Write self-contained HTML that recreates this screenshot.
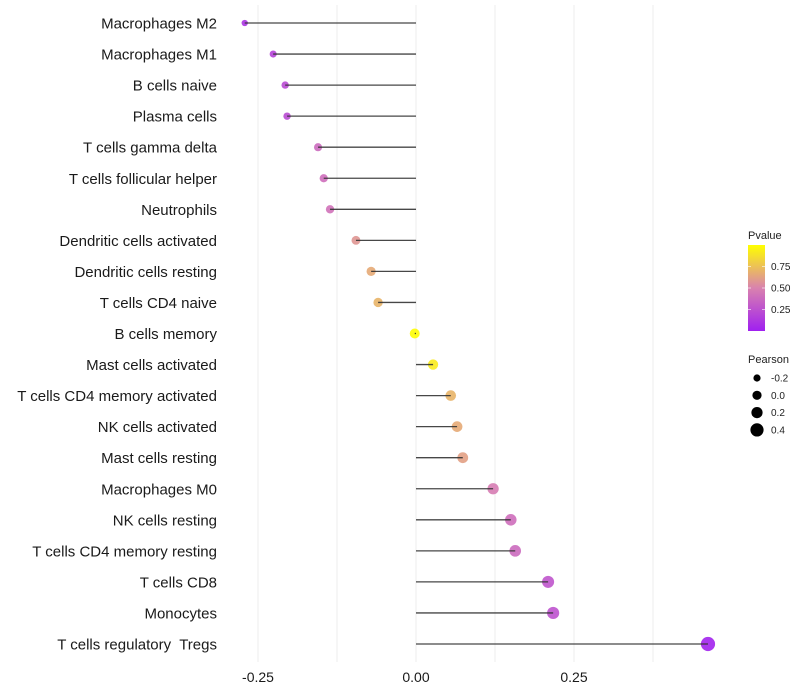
<!DOCTYPE html>
<html><head><meta charset="utf-8"><style>
body{margin:0;background:#fff;font-family:"Liberation Sans",sans-serif}
text{white-space:pre}
</style></head><body>
<svg id="chart" width="800" height="700" style="display:block">
<defs>
<linearGradient id="pg" x1="0" y1="1" x2="0" y2="0">
<stop offset="0" stop-color="#A020F0"/><stop offset="0.5" stop-color="#D982AE"/><stop offset="1" stop-color="#FFFF00"/>
</linearGradient>
</defs>
<g id="grid"></g>
<g id="marks"></g>
<g id="ylab"></g>
<g id="xlab"></g>
<g font-size="10" fill="#222">
<text x="748" y="239" font-size="11">Pvalue</text>
<rect x="748" y="245" width="17" height="86" fill="url(#pg)"/>
<g id="cbticks"></g>
</g>
<g font-size="10" fill="#222" id="pleg">
<text x="748" y="363" font-size="11">Pearson</text>
</g>
</svg>
<script>
const cells = ["Macrophages M2","Macrophages M1","B cells naive","Plasma cells","T cells gamma delta","T cells follicular helper","Neutrophils","Dendritic cells activated","Dendritic cells resting","T cells CD4 naive","B cells memory","Mast cells activated","T cells CD4 memory activated","NK cells activated","Mast cells resting","Macrophages M0","NK cells resting","T cells CD4 memory resting","T cells CD8","Monocytes","T cells regulatory  Tregs"];
const pearson = [-0.271,-0.226,-0.207,-0.204,-0.155,-0.146,-0.136,-0.095,-0.071,-0.060,-0.002,0.027,0.055,0.065,0.074,0.122,0.150,0.157,0.209,0.217,0.462];
const pvalue = [0.1,0.18,0.22,0.22,0.38,0.4,0.42,0.58,0.66,0.7,0.99,0.92,0.7,0.66,0.62,0.47,0.4,0.38,0.27,0.26,0.02];
const xTicks = [-0.25,0,0.25];
const xTickLabels = ["-0.25","0.00","0.25"];
const cbTicks = [0.25,0.5,0.75];
const cbTickLabels = ["0.25","0.50","0.75"];
const sizeTicks = [-0.2,0,0.2,0.4];
const sizeTickLabels = ["-0.2","0.0","0.2","0.4"];

const NS="http://www.w3.org/2000/svg";
const x = v => 416 + v*632;
const y = i => 23 + i*31.05;
const r = v => Math.sqrt(Math.max(3, 25 + 55*v));
function mix(a,b,t){return a.map((c,k)=>Math.round(c+(b[k]-c)*t));}
function col(p){const s=[[160,32,240],[217,130,174],[255,255,0]];
 const c = p<0.5?mix(s[0],s[1],p/0.5):mix(s[1],s[2],(p-0.5)/0.5);return `rgb(${c})`;}
function mk(tag,attrs,parent){const e=document.createElementNS(NS,tag);for(const k in attrs)e.setAttribute(k,attrs[k]);parent.appendChild(e);return e;}
const grid=document.getElementById('grid'),marks=document.getElementById('marks'),ylab=document.getElementById('ylab'),xlab=document.getElementById('xlab');
[-0.25,-0.125,0,0.125,0.25,0.375].forEach(v=>{
 const l=mk('line',{x1:x(v),x2:x(v),y1:5,y2:662,stroke:'#ededed','stroke-width':1},grid);
 
 
});
cells.forEach((c,i)=>{
 const p=mk('circle',{cx:x(pearson[i]),cy:y(i),r:r(pearson[i]),fill:col(pvalue[i]),'fill-opacity':0.9},marks);
 
 
 const s=mk('line',{x1:x(0),x2:x(pearson[i]),y1:y(i),y2:y(i),stroke:'#333','stroke-width':1.3,'stroke-opacity':0.9},marks);
 
 
 const t=mk('text',{x:217,y:y(i)+5.5,'text-anchor':'end','font-size':15,fill:'#1a1a1a'},ylab);
 t.textContent=c;
 
 
});
xTicks.forEach((v,i)=>{
 const t=mk('text',{x:x(v),y:682,'text-anchor':'middle','font-size':14,fill:'#1a1a1a'},xlab);
 t.textContent=xTickLabels[i];
 
 
});
const cb=document.getElementById('cbticks');
cbTicks.forEach((v,i)=>{
 const yy=331-v*86;
 const l=mk('line',{x1:748,x2:751,y1:yy,y2:yy,stroke:'#fff','stroke-opacity':0.6},cb);
 
 
 const l2=mk('line',{x1:762,x2:765,y1:yy,y2:yy,stroke:'#fff','stroke-opacity':0.6},cb);
 
 
 const t=mk('text',{x:771,y:yy+3.5},cb);
 t.textContent=cbTickLabels[i];
 
 
});
const pl=document.getElementById('pleg');
const rl = v => 4.6 + 5*v;
sizeTicks.forEach((v,i)=>{
 const yy=378+i*17.3;
 const c=mk('circle',{cx:757,cy:yy,r:rl(v),fill:'#000'},pl);
 
 
 const t=mk('text',{x:771,y:yy+3.5},pl);
 t.textContent=sizeTickLabels[i];
 
 
});
</script>
</body></html>
